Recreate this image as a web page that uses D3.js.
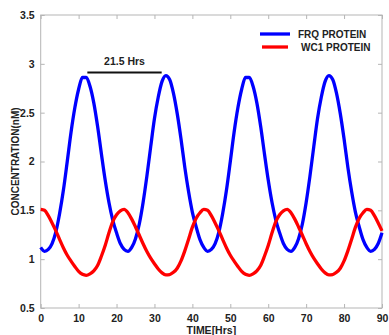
<!DOCTYPE html>
<html>
<head>
<meta charset="utf-8">
<script src="https://cdn.jsdelivr.net/npm/d3@7"></script>
<style>
  body { margin: 0; background: #fff; }
  text { font-family: "Liberation Sans", Arial, sans-serif; font-weight: bold; fill: #222; }
</style>
</head>
<body>
<div id="chart"></div>
<script>
// hours 0..90, one reading per hour
const hours = d3.range(0, 91);

const frqProtein = [
  1.12, 1.08, 1.10, 1.16, 1.28, 1.47, 1.71, 2.00, 2.30, 2.55,
  2.74, 2.86, 2.86, 2.77, 2.60, 2.36, 2.08, 1.81, 1.58, 1.40,
  1.27, 1.16, 1.10, 1.08, 1.12, 1.21, 1.36, 1.58, 1.85, 2.15,
  2.44, 2.66, 2.82, 2.88, 2.84, 2.70, 2.49, 2.23, 1.94, 1.69,
  1.48, 1.33, 1.20, 1.12, 1.08, 1.10, 1.16, 1.28, 1.47, 1.71,
  2.00, 2.30, 2.55, 2.74, 2.86, 2.86, 2.77, 2.60, 2.36, 2.08,
  1.81, 1.58, 1.40, 1.27, 1.16, 1.10, 1.08, 1.12, 1.21, 1.36,
  1.58, 1.85, 2.15, 2.44, 2.66, 2.82, 2.88, 2.84, 2.70, 2.49,
  2.23, 1.94, 1.69, 1.48, 1.33, 1.20, 1.12, 1.08, 1.10, 1.16,
  1.27
];

const wc1Protein = [
  1.51, 1.50, 1.445, 1.37, 1.29, 1.20, 1.115, 1.04, 0.98, 0.925,
  0.875, 0.845, 0.835, 0.85, 0.88, 0.935, 1.03, 1.14, 1.27, 1.385,
  1.455, 1.495, 1.51, 1.475, 1.41, 1.33, 1.245, 1.158, 1.078, 1.01,
  0.953, 0.90, 0.86, 0.84, 0.842, 0.865, 0.907, 0.982, 1.085, 1.205,
  1.328, 1.42, 1.475, 1.51, 1.50, 1.445, 1.37, 1.29, 1.20, 1.115,
  1.04, 0.98, 0.925, 0.875, 0.845, 0.835, 0.85, 0.88, 0.935, 1.03,
  1.14, 1.27, 1.385, 1.455, 1.495, 1.51, 1.475, 1.41, 1.33, 1.245,
  1.158, 1.078, 1.01, 0.953, 0.90, 0.86, 0.84, 0.842, 0.865, 0.907,
  0.982, 1.085, 1.205, 1.328, 1.42, 1.475, 1.51, 1.50, 1.445, 1.37,
  1.29
];

const xTicks = [0, 10, 20, 30, 40, 50, 60, 70, 80, 90];
const yTicks = [0.5, 1, 1.5, 2, 2.5, 3, 3.5];

const seriesNames = ["FRQ PROTEIN", "WC1 PROTEIN"];
const seriesColors = ["#0000ff", "#ff0000"];

// period marker between first two FRQ peaks
const periodLabel = "21.5 Hrs";
const periodSpan = [12.3, 31.9];
const periodLevel = 2.91;

const width = 389, height = 335;
const margin = { top: 15, right: 7, bottom: 27, left: 40.7 };
const w = width - margin.left - margin.right;
const h = height - margin.top - margin.bottom;

const svg = d3.select("#chart")
  .append("svg")
  .attr("width", width)
  .attr("height", height);

const g = svg.append("g")
  .attr("transform", `translate(${margin.left},${margin.top})`);

const x = d3.scaleLinear().domain([0, 90]).range([0, w]);
const y = d3.scaleLinear().domain([0.5, 3.5]).range([h, 0]);

const axisColor = "#b5b5b5";

// frame
g.append("rect")
  .attr("width", w)
  .attr("height", h)
  .attr("fill", "none")
  .attr("stroke", axisColor)
  .attr("stroke-width", 1);

// inward ticks on all four sides
const fmt = d => d3.format("")(d);

const axBottom = g.append("g")
  .attr("transform", `translate(0,${h})`)
  .call(d3.axisBottom(x).tickValues(xTicks).tickSizeInner(-4).tickSizeOuter(0).tickPadding(7).tickFormat(fmt));
const axTop = g.append("g")
  .call(d3.axisTop(x).tickValues(xTicks).tickSizeInner(-4).tickSizeOuter(0).tickFormat(""));
const axLeft = g.append("g")
  .call(d3.axisLeft(y).tickValues(yTicks).tickSizeInner(-4).tickSizeOuter(0).tickPadding(6).tickFormat(fmt));
const axRight = g.append("g")
  .attr("transform", `translate(${w},0)`)
  .call(d3.axisRight(y).tickValues(yTicks).tickSizeInner(-4).tickSizeOuter(0).tickFormat(""));

[axBottom, axTop, axLeft, axRight].forEach(a => {
  a.select(".domain").remove();
  a.selectAll(".tick line").attr("stroke", axisColor);
  a.selectAll(".tick text")
    .attr("font-size", 10.5)
    .attr("font-family", "Liberation Sans, Arial, sans-serif")
    .attr("font-weight", "bold")
    .attr("fill", "#222");
});

// series
const line = d3.line()
  .x((d, i) => x(hours[i]))
  .y(d => y(d))
  .curve(d3.curveMonotoneX);

[frqProtein, wc1Protein].forEach((s, i) => {
  g.append("path")
    .datum(s)
    .attr("fill", "none")
    .attr("stroke", seriesColors[i])
    .attr("stroke-width", 3.3)
    .attr("stroke-linejoin", "round")
    .attr("d", line);
});

// period annotation
g.append("line")
  .attr("x1", x(periodSpan[0]))
  .attr("x2", x(periodSpan[1]))
  .attr("y1", y(periodLevel))
  .attr("y2", y(periodLevel))
  .attr("stroke", "#111")
  .attr("stroke-width", 2);

g.append("text")
  .attr("x", x((periodSpan[0] + periodSpan[1]) / 2))
  .attr("y", y(periodLevel) - 8)
  .attr("text-anchor", "middle")
  .attr("font-size", 10.5)
  .text(periodLabel);

// legend
const legend = g.append("g")
  .attr("transform", `translate(${260 - margin.left},${34 - margin.top})`);

seriesNames.forEach((name, i) => {
  legend.append("line")
    .attr("x1", i === 0 ? 0 : 2)
    .attr("x2", i === 0 ? 30 : 28)
    .attr("y1", i * 13)
    .attr("y2", i * 13)
    .attr("stroke", seriesColors[i])
    .attr("stroke-width", 3.3);
  legend.append("text")
    .attr("x", i === 0 ? 38 : 41)
    .attr("y", i * 13 + 4)
    .attr("font-size", 10)
    .text(name);
});

// axis titles
svg.append("text")
  .attr("transform", `translate(18.5,${margin.top + h / 2}) rotate(-90)`)
  .attr("text-anchor", "middle")
  .attr("font-size", 10)
  .text("CONCENTRATION(nM)");

svg.append("text")
  .attr("x", margin.left + w / 2)
  .attr("y", 334)
  .attr("text-anchor", "middle")
  .attr("font-size", 10.5)
  .text("TIME[Hrs]");
</script>
</body>
</html>
